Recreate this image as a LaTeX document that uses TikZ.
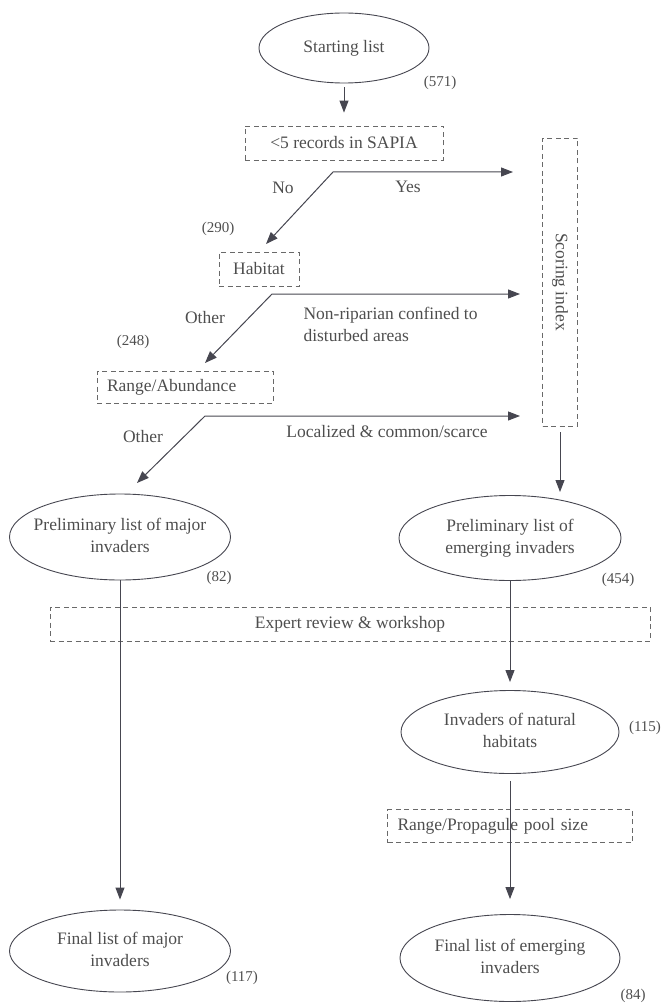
\documentclass[tikz,border=0pt]{standalone}
\usepackage{fontspec}
\setmainfont{Liberation Serif}
\usepackage{xcolor}
\usetikzlibrary{arrows.meta,shapes.geometric,calc}
\definecolor{ink}{RGB}{70,70,80}
\definecolor{txt}{RGB}{78,78,78}
\definecolor{dash}{RGB}{105,105,105}
\newcommand{\ovaltext}[1]{\raisebox{-4pt}{\makebox[0pt]{\begin{tabular}{@{}c@{}}#1\end{tabular}}}}

\begin{document}
\begin{tikzpicture}[x=1pt,y=-1pt,
  every node/.style={text=txt, font=\rmfamily\fontsize{17.5}{22}\selectfont},
  oval/.style={ellipse, draw=ink, line width=0.9pt, inner sep=0pt},
  dbox/.style={draw=dash, dash pattern=on 5pt off 3.5pt, line width=0.8pt, minimum height=34pt, inner sep=0pt},
  num/.style={font=\rmfamily\fontsize{15}{18}\selectfont},
  arr/.style={draw=ink, line width=1pt, -{Triangle[length=12pt,width=9pt]}},
  arrb/.style={draw=ink, line width=1pt, {Triangle[length=12pt,width=9pt]}-{Triangle[length=12pt,width=9pt]}}]
\useasboundingbox (0,0) rectangle (664,1003);

%boxes and ovals
\node[oval, minimum width=170pt, minimum height=70pt] (start) at (344,48) {\ovaltext{Starting list}};
\node[dbox, minimum width=198pt] (sapia) at (344,143) {<5 records in SAPIA};
\node[dbox, minimum width=80pt] (hab) at (259,269) {Habitat};
\node[dbox, minimum height=32pt, text width=156pt, align=left, inner xsep=10pt] (ra) at (185,387) {Range/Abundance};
\node[dbox, minimum width=35pt, minimum height=288pt] (score) at (560,282) {\rotatebox{-90}{Scoring index}};
\node[oval, minimum width=221pt, minimum height=86pt] (pm) at (120,537) {\ovaltext{Preliminary list of major\\invaders}};
\node[oval, minimum width=222pt, minimum height=85pt] (pe) at (510,538) {\ovaltext{Preliminary list of\\emerging invaders}};
\node[dbox, minimum width=600pt] (expert) at (350,624) {Expert review \& workshop};
\node[oval, minimum width=218pt, minimum height=83pt] (nat) at (510,732) {\ovaltext{Invaders of natural\\habitats}};
\node[dbox, minimum height=33pt, text width=225pt, align=left, inner xsep=10pt] (rp) at (510,826) {Range/Propagule pool size};
\node[oval, minimum width=221pt, minimum height=82pt] (fm) at (120,951) {\ovaltext{Final list of major\\invaders}};
\node[oval, minimum width=220pt, minimum height=87pt] (fe) at (510,958) {\ovaltext{Final list of emerging\\invaders}};

%counts
\node[num] (c571) at (440,83) {(571)};
\node[num] (c290) at (218,229) {(290)};
\node[num] (c248) at (133,342) {(248)};
\node[num] (c82) at (219,578) {(82)};
\node[num] (c454) at (618,580) {(454)};
\node[num] (c115) at (645,728) {(115)};
\node[num] (c117) at (242,978) {(117)};
\node[num] (c84) at (633,996) {(84)};

%branch points
\coordinate (k1) at (333,172); \coordinate (y1) at (513,172); \coordinate (n1) at (266,244);
\coordinate (k2) at (272,294); \coordinate (y2) at (520,294); \coordinate (n2) at (205,363);
\coordinate (k3) at (205,416); \coordinate (y3) at (520,416); \coordinate (n3) at (137,483);

\draw[arrb] (n1) -- (k1) -- (y1);
\draw[arrb] (n2) -- (k2) -- (y2);
\draw[arrb] (n3) -- (k3) -- (y3);

\node (lno) at (283,188) {No};
\node (lyes) at (408,187) {Yes};
\node (loth1) at (205,318) {Other};
\node[anchor=west, align=left] (lnon) at (300,324) {Non-riparian confined to\\disturbed areas};
\node (loth2) at (143,437) {Other};
\node (lloc) at (387,432) {Localized \& common/scarce};

%vertical arrows
\draw[arr, shorten <=4pt, shorten >=13pt] (start.south) -- (sapia.north);
\draw[arr, shorten <=6pt] (score.south) -- (score.south |- 0,492);
\draw[arr, shorten >=10pt] (pm.south) -- (fm.north);
\draw[arr, shorten >=8pt] (pe.south) -- (nat.north);
\draw[arr, shorten <=7pt, shorten >=15pt] (nat.south) -- (fe.north);
\end{tikzpicture}
\end{document}
